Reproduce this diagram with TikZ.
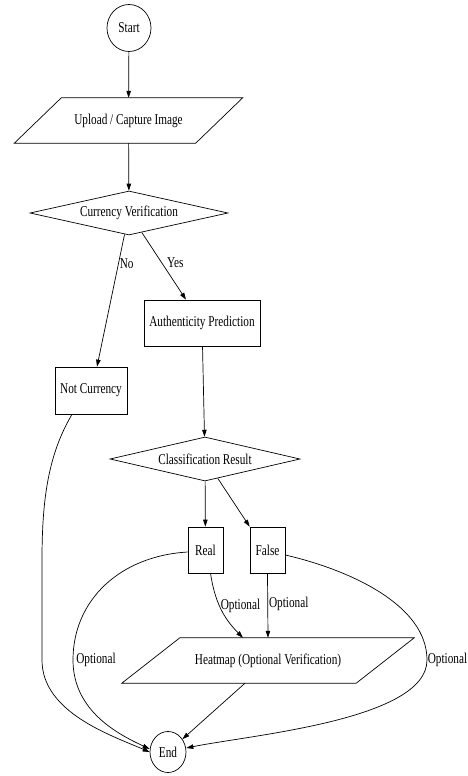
\documentclass[tikz,border=0pt]{standalone}
\usepackage{fontspec}
\setmainfont{Liberation Serif}[FakeStretch=0.75]
\usepackage{tikz}
\usetikzlibrary{arrows.meta,shapes.geometric,positioning,calc}
\tikzset{
  % start / end terminal
  termnode/.style={ellipse, draw, line width=0.7pt, inner sep=1pt, font=\gvsize},
  % input / output box (outline drawn by \ioframe)
  ionode/.style={rectangle, inner sep=1pt, font=\gvsize},
  % decision diamond
  decnode/.style={diamond, draw, line width=0.7pt, inner sep=0pt, font=\gvsize},
  % process box
  procnode/.style={rectangle, draw, line width=0.7pt, inner sep=2pt, font=\gvsize},
  % edge label
  elabel/.style={font=\gvsize, inner sep=1pt},
  % flow arrow
  flowarrow/.style={-{Triangle[length=7pt,width=4.5pt]}, line width=0.7pt},
}
\newcommand{\gvsize}{\fontsize{15}{17}\selectfont}
% parallelogram round an io node: #1 node name, #2 half slant
\newcommand{\ioframe}[2]{%
  \draw[line width=0.7pt] ([xshift=-#2]#1.south west) -- ([xshift=#2]#1.north west)
    -- ([xshift=#2]#1.north east) -- ([xshift=-#2]#1.south east) -- cycle;}

\begin{document}
\begin{tikzpicture}[x=1pt,y=-1pt]
  \useasboundingbox (0,0) rectangle (467,776);

  % Nodes
  \node[termnode, minimum width=44pt, minimum height=47pt] (start) at (129,28) {Start};
  \node[ionode, minimum width=181pt, minimum height=45pt] (upload) at (128.5,120.5) {Upload / Capture Image};
  \ioframe{upload}{23.5pt}
  \node[decnode, shape aspect=4.5, minimum width=198pt, minimum height=44pt] (currency) at (129,213) {Currency Verification};
  \node[procnode, minimum width=116pt, minimum height=46pt] (auth) at (202,323) {Authenticity Prediction};
  \node[procnode, minimum width=72pt, minimum height=47pt] (notcur) at (91,390.5) {Not Currency};
  \node[decnode, shape aspect=4.3, minimum width=190pt, minimum height=44pt] (class) at (205,459) {Classification Result};
  \node[procnode, minimum width=35pt, minimum height=46pt] (real) at (205.5,550) {Real};
  \node[procnode, minimum width=35pt, minimum height=46pt] (fake) at (267.5,550) {False};
  \node[ionode, minimum width=234pt, minimum height=45pt] (heatmap) at (268,660.5) {Heatmap (Optional Verification)};
  \ioframe{heatmap}{29pt}
  \node[termnode, minimum width=36pt, minimum height=41pt] (end) at (168,752) {End};

  % Main flow
  \draw[flowarrow] (start) -- (upload);
  \draw[flowarrow] (upload) -- (currency);
  \draw[flowarrow] (currency) -- ([xshift=6pt]notcur.north)
    node[pos=0.22, right, elabel]{No};
  \draw[flowarrow] (currency) -- ([xshift=-16pt]auth.north)
    node[pos=0.45, right=4pt, elabel]{Yes};
  \draw[flowarrow] (auth) -- (class);
  \draw[flowarrow] (class) -- (real);
  \draw[flowarrow] (class) -- (fake.north west);

  % Optional heatmap
  \draw[flowarrow] ([xshift=5pt]real.south) to[bend right=18]
    node[pos=0.45, right, elabel]{Optional} ([xshift=-25pt]heatmap.north);
  \draw[flowarrow] (fake.south) --
    node[pos=0.48, right=0pt, elabel]{Optional} (heatmap.north);

  % Paths to end
  \draw[flowarrow] ([xshift=-19pt]notcur.south) .. controls (48,455) and (42,500) .. (42,560)
    -- (42,660) .. controls (42,712) and (110,735) .. (end.west);
  \draw[flowarrow] ([yshift=-2pt]real.west) .. controls (120,556) and (73,600) .. (73,660)
    node[right=2pt, elabel]{Optional}
    .. controls (73,712) and (120,735) .. ([yshift=3pt]end.west);
  \draw[flowarrow] ([yshift=-5pt]fake.east) .. controls (350,570) and (427,605) .. (427,660)
    node[right=0pt, inner sep=0.5pt, font=\gvsize]{Optional}
    .. controls (427,720) and (250,735) .. ([yshift=4pt]end.east);
  \draw[flowarrow] ([xshift=-23pt]heatmap.south) -- (end);
\end{tikzpicture}
\end{document}
